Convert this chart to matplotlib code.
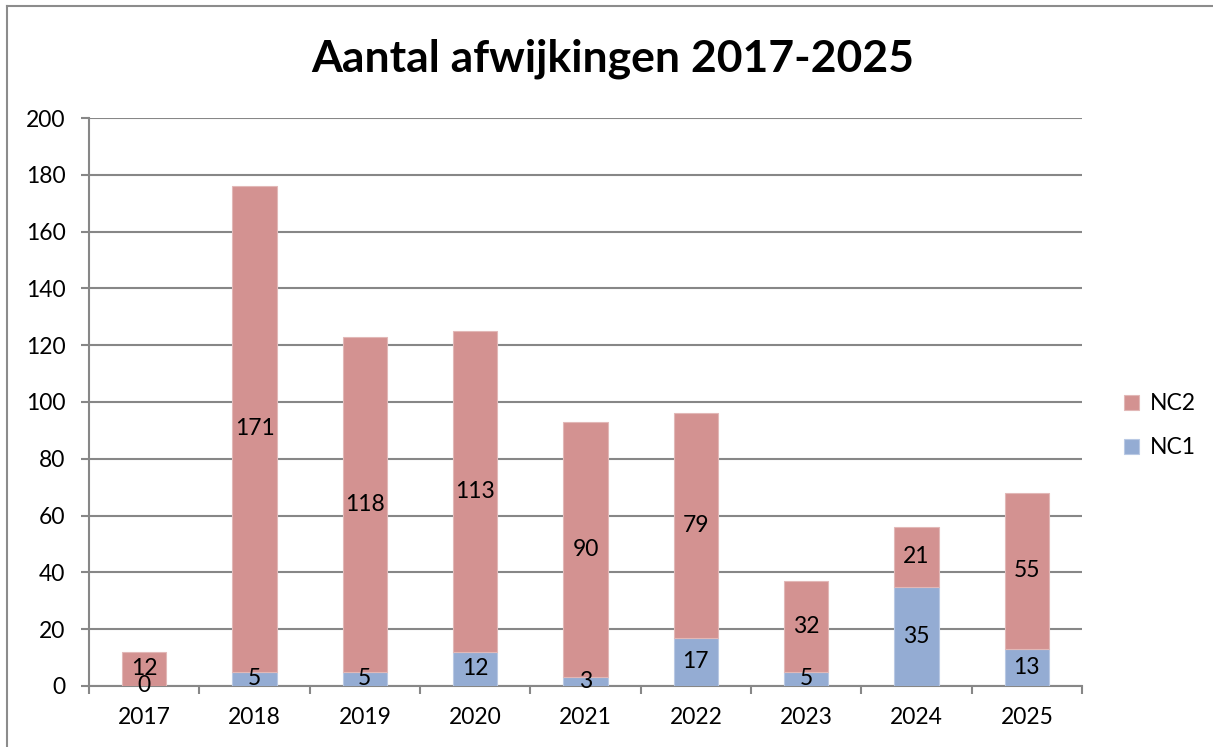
import matplotlib.pyplot as plt
import numpy as np
from matplotlib.lines import Line2D

# data
years = ['2017', '2018', '2019', '2020', '2021', '2022', '2023', '2024', '2025']
nc1 = [0, 5, 5, 12, 3, 17, 5, 35, 13]
nc2 = [12, 171, 118, 113, 90, 79, 32, 21, 55]

plt.rcParams['font.family'] = ['Lato', 'DejaVu Sans']

fig = plt.figure(figsize=(12.13, 7.47), dpi=100)
ax = fig.add_axes([0.0734, 0.0817, 0.8186, 0.7603])

x = np.arange(len(years))
col1 = '#94acd3'
col2 = '#d39291'
ax.bar(x, nc1, width=0.4, color=col1, edgecolor='#b9c9e4', linewidth=0.8, label='NC1', zorder=3)
ax.bar(x, nc2, width=0.4, bottom=nc1, color=col2, edgecolor='#e2b8b7', linewidth=0.8, label='NC2', zorder=3)

# data labels in middle of each segment
for i in range(len(years)):
    ax.text(x[i], nc1[i] / 2, str(nc1[i]), ha='center', va='center', fontsize=16.5, zorder=4)
    ax.text(x[i], nc1[i] + nc2[i] / 2, str(nc2[i]), ha='center', va='center', fontsize=16.5, zorder=4)

ax.set_xlim(-0.5, len(years) - 0.5)
ax.set_ylim(0, 200)
ax.set_yticks(range(0, 201, 20))
ax.set_xticks(x)
ax.set_xticklabels(years)
ax.set_xticks(np.arange(-0.5, len(years)), minor=True)

gray = '#878787'
ax.grid(axis='y', color=gray, linewidth=1.5, zorder=0)
ax.set_axisbelow(True)
for s in ['top', 'right']:
    ax.spines[s].set_visible(False)
for s in ['left', 'bottom']:
    ax.spines[s].set_color(gray)
    ax.spines[s].set_linewidth(1.5)

ax.tick_params(axis='y', length=6, width=1.5, color=gray, labelsize=16.5, pad=11)
ax.tick_params(axis='x', which='major', length=0, labelsize=16.5, pad=15)
ax.tick_params(axis='x', which='minor', length=6, width=1.5, color=gray)

fig.suptitle('Aantal afwijkingen 2017-2025', fontsize=32, fontweight='bold', x=0.505, y=0.948)

h, l = ax.get_legend_handles_labels()
ax.legend(h[::-1], l[::-1], loc='center left', bbox_to_anchor=(0.91, 0.43),
          bbox_transform=fig.transFigure, frameon=False, fontsize=16.5,
          handlelength=0.65, handleheight=0.65, handletextpad=0.45, labelspacing=1.0)

# outer border (top and left only visible)
fig.add_artist(Line2D([0.006, 0.006], [0, 0.992], color='#8c8c8c', linewidth=1.5, transform=fig.transFigure))
fig.add_artist(Line2D([0.006, 1.0], [0.992, 0.992], color='#8c8c8c', linewidth=1.5, transform=fig.transFigure))

fig.savefig('out.png', dpi=100)
